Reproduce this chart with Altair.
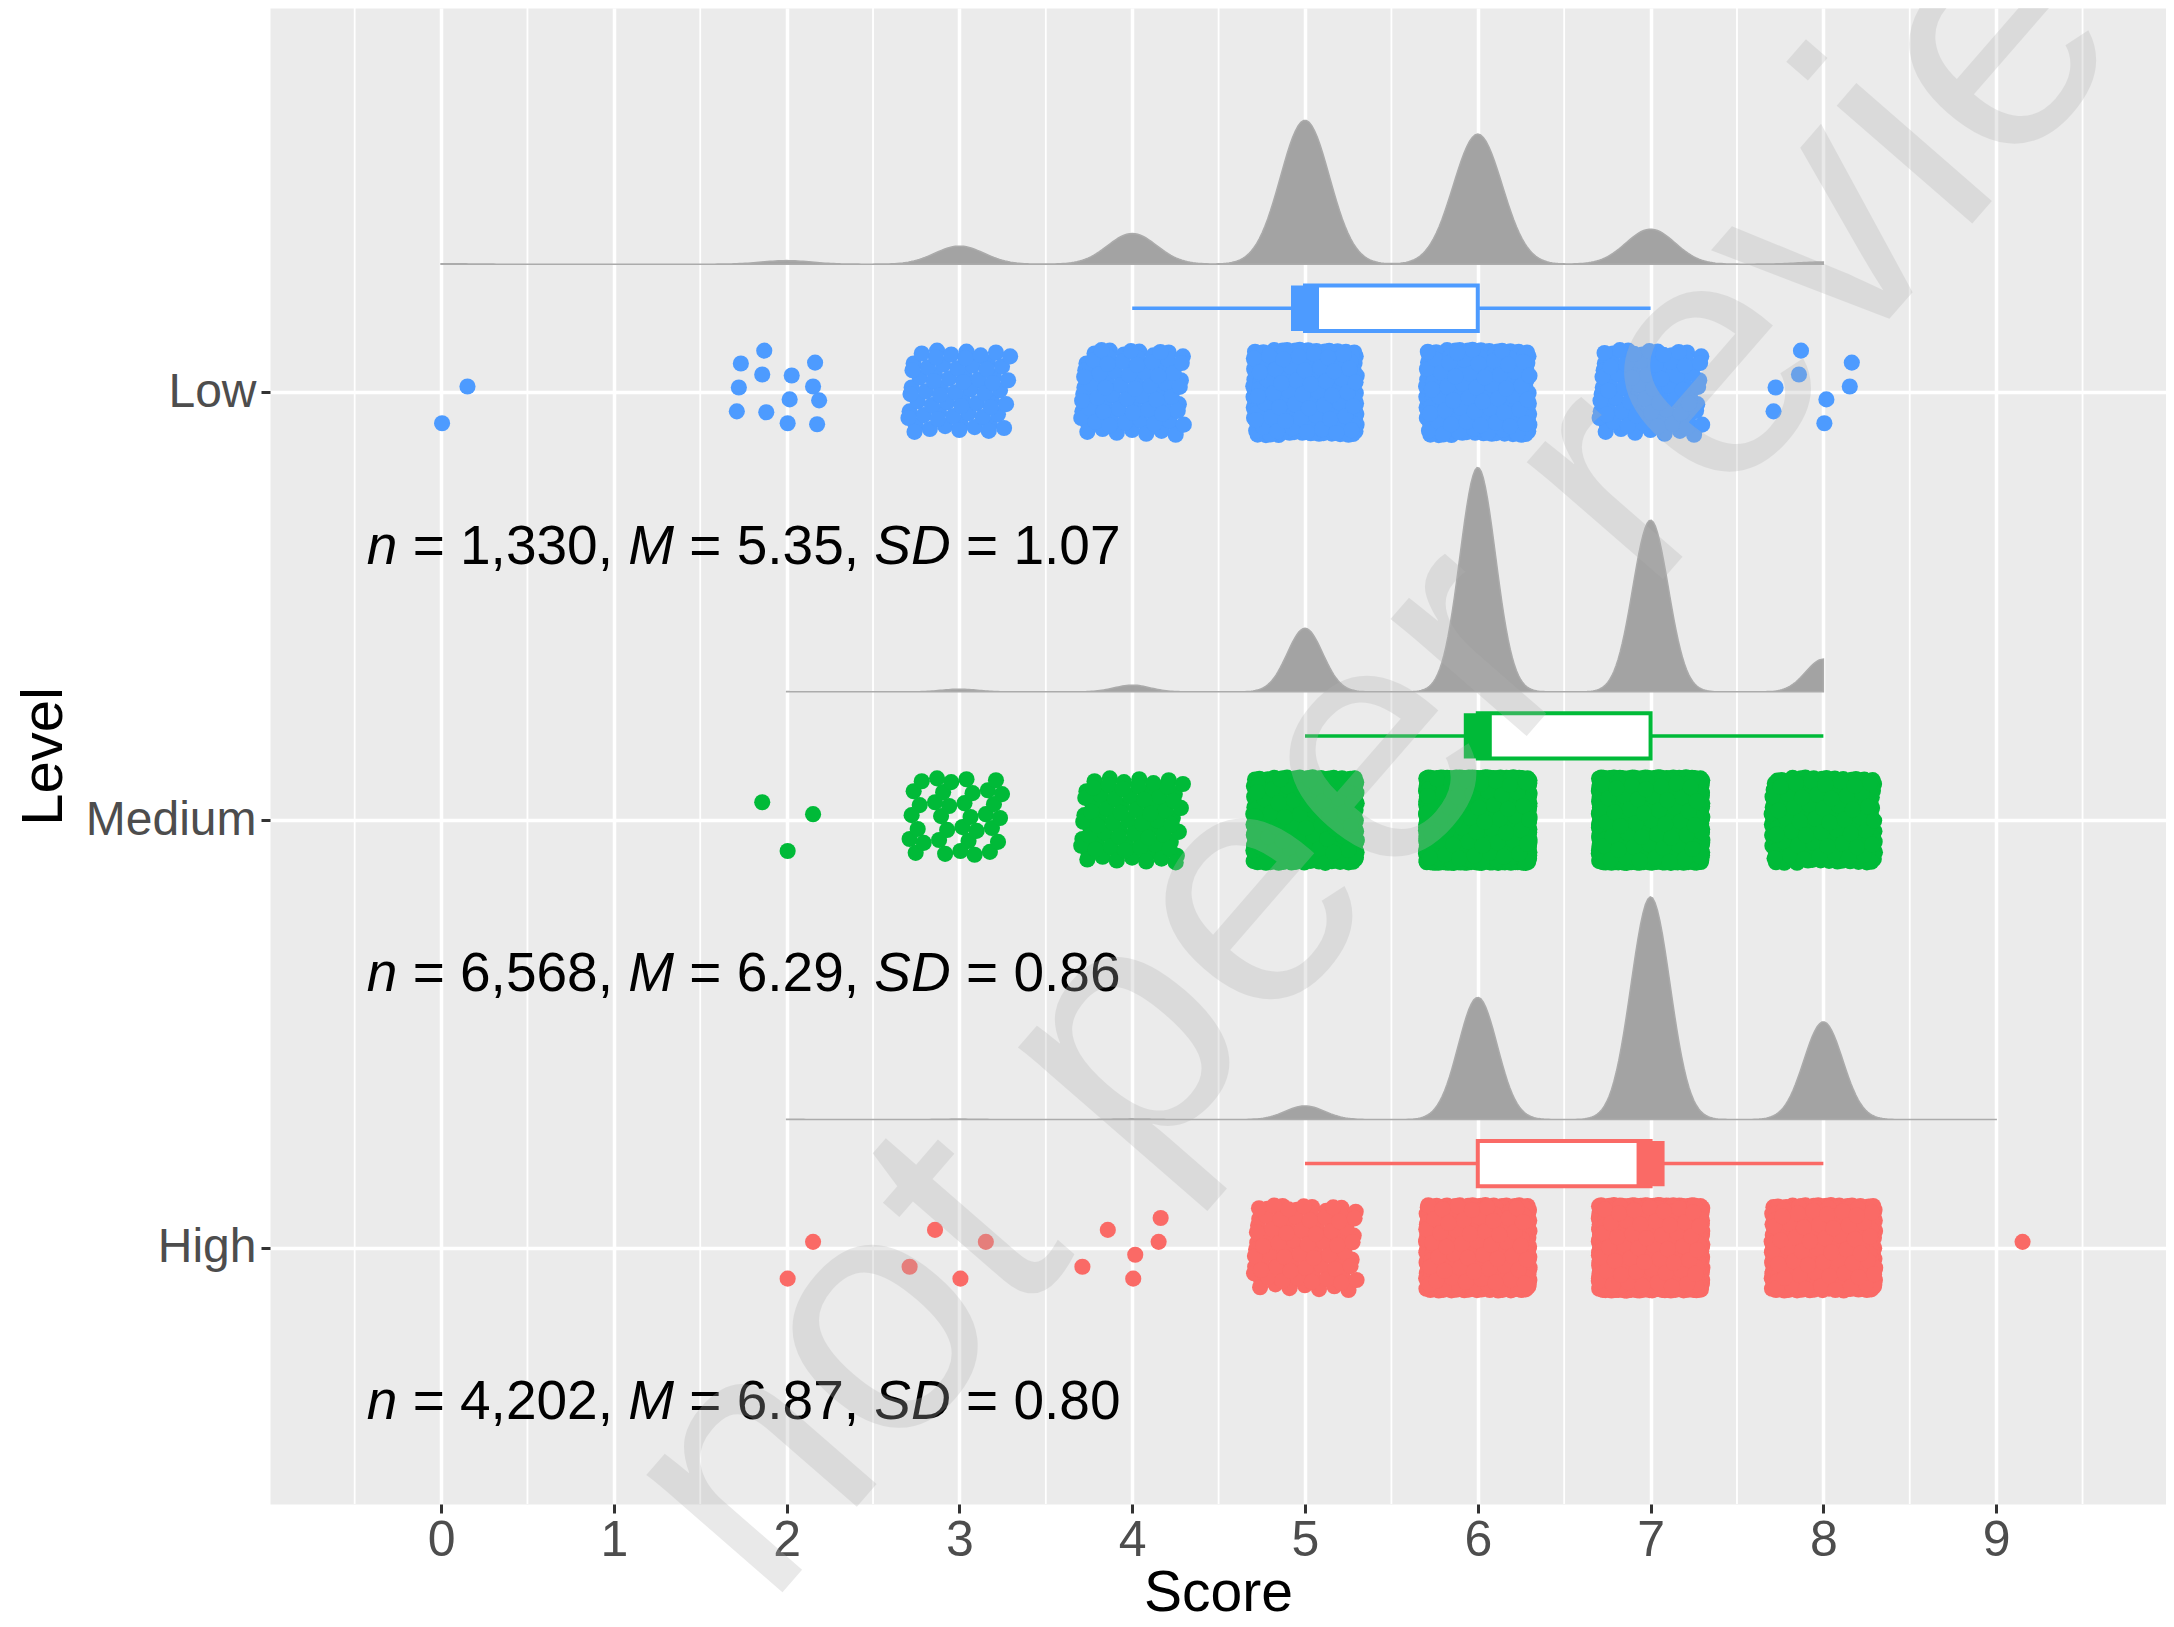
import altair as alt
import pandas as pd

alt.data_transformers.disable_max_rows()

# ---------------- data ----------------
levels = ["Low", "Medium", "High"]
level_pos = [3, 2, 1]
level_colors = ["#4D9BFF", "#00BA38", "#FA6A66"]

low_scores = [0, 2, 3, 4, 5, 6, 7, 8]
low_counts = [2, 13, 66, 112, 526, 475, 128, 8]
med_scores = [2, 3, 4, 5, 6, 7, 8]
med_counts = [3, 35, 88, 831, 2936, 2247, 428]
high_scores = [2, 3, 4, 5, 6, 7, 8, 9]
high_counts = [2, 4, 6, 125, 1122, 2045, 897, 1]

n_text = ["1,330", "6,568", "4,202"]
m_text = ["5.35", "6.29", "6.87"]
sd_text = ["1.07", "0.86", "0.80"]

whisk_lo = [4, 5, 5]
box_q1 = [5, 6, 6]
box_med = [5, 6, 7]
box_q3 = [6, 7, 7]
whisk_hi = [7, 8, 8]

bandwidths = [0.142, 0.103, 0.113]
x_ticks = [0, 1, 2, 3, 4, 5, 6, 7, 8, 9]
minor_ticks = [-0.5, 0.5, 1.5, 2.5, 3.5, 4.5, 5.5, 6.5, 7.5, 8.5, 9.5]

# ---------------- tables ----------------
all_scores = [low_scores, med_scores, high_scores]
all_counts = [low_counts, med_counts, high_counts]
rows = []
for lvl, pos, scs, cts in zip(levels, level_pos, all_scores, all_counts):
    for s, c in zip(scs, cts):
        rows.extend([{"level": lvl, "pos": pos, "score": s}] * c)
raw = pd.DataFrame(rows)

box_df = pd.DataFrame({"level": levels, "pos": level_pos, "lo": whisk_lo, "q1": box_q1,
                       "med": box_med, "q3": box_q3, "hi": whisk_hi})
text_df = pd.DataFrame({"level": levels, "pos": level_pos,
                        "p2": ["= " + v + "," for v in n_text],
                        "p4": ["= " + v + "," for v in m_text],
                        "p6": ["= " + v for v in sd_text]})
minor_df = pd.DataFrame({"x": minor_ticks})

FONT = "Liberation Sans"
xscale = alt.Scale(domain=[-0.99, 9.983], nice=False, zero=False)
yscale = alt.Scale(domain=[0.401, 3.899], nice=False, zero=False)
xaxis = alt.Axis(title="Score", values=x_ticks, format="d", grid=True, labelFlush=False,
                 labelPadding=2, titlePadding=0)
yaxis = alt.Axis(title="Level", values=[1, 2, 3], grid=True, labelFlush=False,
                 labelExpr="datum.value == 3 ? 'Low' : datum.value == 2 ? 'Medium' : 'High'",
                 labelPadding=5, titlePadding=12)
color_scale = alt.Scale(domain=levels, range=level_colors)


def X(f):
    return alt.X(f, type="quantitative", scale=xscale, axis=xaxis)


def Y(f):
    return alt.Y(f, type="quantitative", scale=yscale, axis=yaxis)


# minor grid
minor = alt.Chart(minor_df).mark_rule(color="white", strokeWidth=1.8).encode(x=X("x"))

# half-violin densities
dens_layers = []
for lvl, pos, bw, scs in zip(levels, level_pos, bandwidths, all_scores):
    d = (alt.Chart(raw)
         .transform_filter(alt.datum.level == lvl)
         .transform_density("score", as_=["value", "density"], bandwidth=bw,
                            extent=[min(scs), max(scs)], steps=500)
         .transform_calculate(ytop=f"{pos} + 0.3 + datum.density * 0.303",
                              ybase=f"{pos} + 0.3")
         .mark_area(color="#A3A3A3", stroke="#ABABAB", strokeWidth=1.5)
         .encode(x=X("value"), y=Y("ytop"), y2="ybase:Q"))
    dens_layers.append(d)

# boxplots
box_base = alt.Chart(box_df).transform_calculate(
    yc="datum.pos + 0.197", yb="datum.pos + 0.144", yt="datum.pos + 0.25")
whisk = box_base.mark_rule(strokeWidth=3.5).encode(
    x=X("lo"), x2="hi:Q", y=Y("yc"),
    color=alt.Color("level:N", scale=color_scale, legend=None))
boxes = box_base.mark_rect(fill="white", strokeWidth=4).encode(
    x=X("q1"), x2="q3:Q", y=Y("yb"), y2="yt:Q",
    stroke=alt.Color("level:N", scale=color_scale, legend=None))
meds = box_base.mark_rule(strokeWidth=28, strokeCap="butt").encode(
    x=X("med"), y=Y("yb"), y2="yt:Q",
    color=alt.Color("level:N", scale=color_scale, legend=None))

# jittered points
points = (alt.Chart(raw)
          .transform_window(idx="row_number()", groupby=["level", "score"])
          .transform_calculate(
              xj="datum.score + ((datum.idx * 0.7548776662) % 1 - 0.5) * 0.6",
              yj="datum.pos + ((datum.idx * 0.5698402910) % 1 - 0.5) * 0.2")
          .mark_circle(size=260, opacity=1)
          .encode(x=X("xj"), y=Y("yj"),
                  color=alt.Color("level:N", scale=color_scale, legend=None)))

# annotation text (mixed italic)
FS = 55
W = {" ": 278, "=": 584, ",": 278, ".": 278, "n": 556, "M": 833, "S": 667, "D": 722}
for ch in "0123456789":
    W[ch] = 556


def width(s):
    return sum(W[c] for c in s) * FS / 1000.0


pieces = [("n", None, "italic"), (None, "p2", "normal"), ("M", None, "italic"),
          (None, "p4", "normal"), ("SD", None, "italic"), (None, "p6", "normal")]
sample = {"p2": text_df.p2[0], "p4": text_df.p4[0], "p6": text_df.p6[0]}
text_layers = []
off = 0.0
tbase = alt.Chart(text_df).transform_calculate(ty="datum.pos - 0.40")
for lit, field, style in pieces:
    mt = tbase.mark_text(align="left", baseline="alphabetic", dx=off, fontSize=FS,
                         font=FONT, fontStyle=style, color="black")
    if lit is not None:
        enc = mt.encode(x=alt.datum(-0.43, scale=xscale), y=Y("ty"), text=alt.value(lit))
        s = lit
    else:
        enc = mt.encode(x=alt.datum(-0.43, scale=xscale), y=Y("ty"), text=alt.Text(f"{field}:N"))
        s = sample[field]
    text_layers.append(enc)
    off += width(s) + width(" ")

# watermark
wm = alt.Chart(pd.DataFrame({"t": ["not peer reviewed"]})).mark_text(
    align="left", baseline="alphabetic", angle=311, fontSize=340, font=FONT,
    color="#B2B2B2", opacity=0.28).encode(x=alt.value(497), y=alt.value(1602), text="t:N")

chart = alt.layer(minor, *dens_layers, whisk, boxes, meds, points, *text_layers, wm).properties(
    width=1896, height=1496,
    autosize=alt.AutoSizeParams(type="none"),
    padding={"left": 262, "top": 0, "right": 0, "bottom": 115},
).configure_view(fill="#EBEBEB", stroke="transparent").configure_axis(
    gridColor="white", gridWidth=3.5, domain=False,
    tickColor="#333333", tickWidth=3, tickSize=9,
    labelFont=FONT, labelFontSize=50, labelColor="#4D4D4D",
    titleFont=FONT, titleFontSize=57, titleColor="black", titleFontWeight="normal",
).configure_axisY(labelFontSize=48, titleFontSize=58)

chart.save("out.html", embed_options={"renderer": "svg", "actions": False})
